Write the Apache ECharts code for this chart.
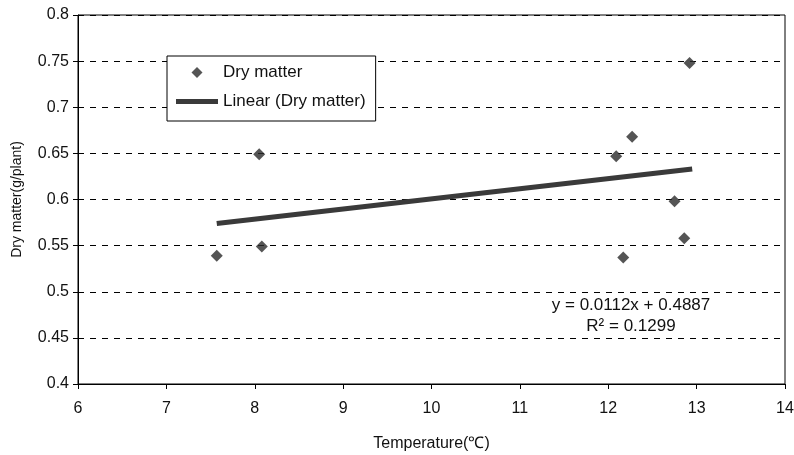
<!DOCTYPE html>
<html>
<head>
<meta charset="utf-8">
<script src="https://cdn.jsdelivr.net/npm/echarts@6/dist/echarts.min.js"></script>
<style>
  html, body { margin: 0; padding: 0; background: #fff; }
  #chart { width: 794px; height: 455px; }
</style>
</head>
<body>
<div id="chart"></div>
<script>
// measured points (temperature, dry matter)
var temps = [7.57, 8.05, 8.08, 12.09, 12.17, 12.27, 12.75, 12.86, 12.92];
var dryMatter = [0.539, 0.649, 0.549, 0.647, 0.537, 0.668, 0.598, 0.558, 0.748];
// trendline endpoints as drawn
var trendX = [7.57, 12.95];
var trendY = [0.574, 0.633];
var eqText = 'y = 0.0112x + 0.4887';
var r2Text = 'R\u00b2 = 0.1299';

var font = 'Liberation Sans';
var points = temps.map(function (t, i) { return [t, dryMatter[i]]; });
var trend = trendX.map(function (t, i) { return [t, trendY[i]]; });

var chart = echarts.init(document.getElementById('chart'));
chart.setOption({
  animation: false,
  backgroundColor: '#fff',
  textStyle: { fontFamily: font },
  grid: {
    left: 78, right: 9, top: 15, bottom: 71,
    outerBoundsMode: 'none',
    show: true, borderColor: '#000', borderWidth: 1
  },
  legend: {
    orient: 'vertical',
    left: 167, top: 56,
    padding: [8, 10, 11, 9],
    borderColor: '#000', borderWidth: 1,
    backgroundColor: '#fff',
    itemWidth: 42, itemHeight: 11, itemGap: 12,
    textStyle: { fontSize: 17, color: '#111', fontFamily: font },
    data: [
      { name: 'Dry matter', icon: 'path://M5,0 L10,5 L5,10 L0,5 Z' },
      { name: 'Linear (Dry matter)', icon: 'path://M0,0 L42,0 L42,5 L0,5 Z' }
    ]
  },
  xAxis: {
    type: 'value', min: 6, max: 14, interval: 1,
    name: 'Temperature(\u2103)', nameLocation: 'middle', nameGap: 52,
    nameTextStyle: { fontSize: 16, color: '#111' },
    axisLine: { lineStyle: { color: '#000', width: 1 } },
    axisTick: { show: true, length: 5, lineStyle: { color: '#000' } },
    axisLabel: { fontSize: 16, color: '#111', margin: 17 },
    splitLine: { show: false }
  },
  yAxis: {
    type: 'value', min: 0.4, max: 0.8, interval: 0.05,
    name: 'Dry matter(g/plant)', nameLocation: 'middle', nameGap: 54,
    nameTextStyle: { fontSize: 14, color: '#111' },
    axisLine: { show: true, lineStyle: { color: '#000', width: 1 } },
    axisTick: { show: true, length: 5, lineStyle: { color: '#000' } },
    axisLabel: { fontSize: 16, color: '#111', margin: 9 },
    splitLine: { show: true, lineStyle: { color: '#000', type: [6, 6], width: 1 } }
  },
  series: [
    {
      name: 'Dry matter', type: 'scatter',
      symbol: 'diamond', symbolSize: 12,
      itemStyle: { color: '#2b2b2b' },
      data: points, z: 3
    },
    {
      name: 'Linear (Dry matter)', type: 'line',
      symbol: 'none',
      lineStyle: { color: '#3a3a3a', width: 5 },
      itemStyle: { color: '#3a3a3a' },
      data: trend, z: 2
    }
  ],
  graphic: [
    { type: 'text', x: 631, y: 305,
      style: { text: eqText, font: '17px ' + font, fill: '#111',
               textAlign: 'center', textVerticalAlign: 'middle' } },
    { type: 'text', x: 631, y: 326,
      style: { text: r2Text, font: '17px ' + font, fill: '#111',
               textAlign: 'center', textVerticalAlign: 'middle' } }
  ]
});
</script>
</body>
</html>
